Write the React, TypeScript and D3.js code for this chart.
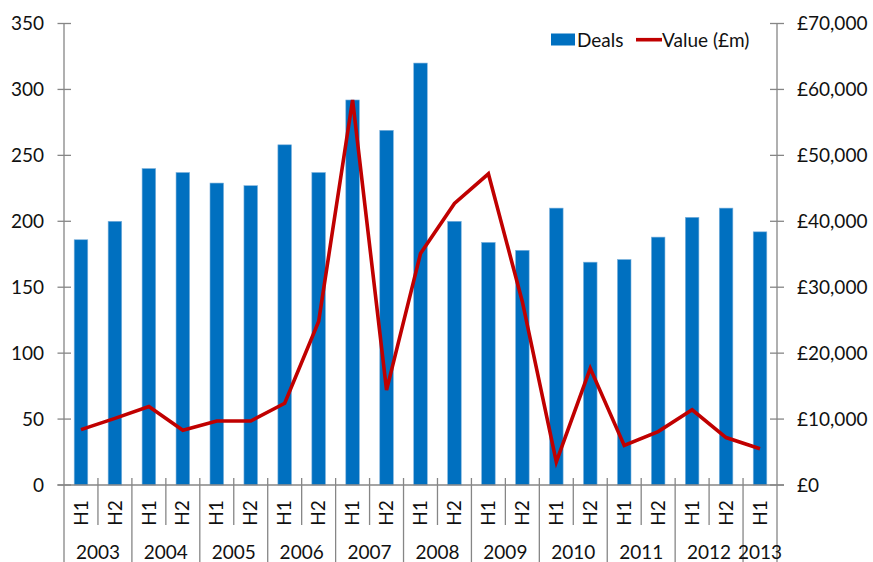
import { useEffect, useRef } from "react";
import * as d3 from "d3";

const years = ["2003", "2004", "2005", "2006", "2007", "2008", "2009", "2010", "2011", "2012", "2013"];
const halves = ["H1", "H2", "H1", "H2", "H1", "H2", "H1", "H2", "H1", "H2", "H1", "H2", "H1", "H2", "H1", "H2", "H1", "H2", "H1", "H2", "H1"];
const deals = [186, 200, 240, 237, 229, 227, 258, 237, 292, 269, 320, 200, 184, 178, 210, 169, 171, 188, 203, 210, 192];
const valueGbp = [8400, 10100, 11900, 8300, 9700, 9700, 12400, 24800, 58400, 14400, 35100, 42700, 47200, 27800, 3500, 17700, 6000, 8100, 11400, 7200, 5500];
const leftTicks = [0, 50, 100, 150, 200, 250, 300, 350];
const rightTicks = [0, 10000, 20000, 30000, 40000, 50000, 60000, 70000];

export default function App() {
  const svgRef = useRef<SVGSVGElement>(null);

  useEffect(() => {
    const svg = d3.select(svgRef.current);
    svg.selectAll("*").remove();

    const width = 873;
    const height = 562;
    const margin = { top: 23.5, right: 96, bottom: 77, left: 64 };
    const axisColor = "#868686";
    const font = "Lato, 'Open Sans', sans-serif";
    const textColor = "#111";

    const keys = deals.map((_, i) => i);
    const x = d3
      .scaleBand<number>()
      .domain(keys)
      .range([margin.left, width - margin.right]);

    const y = d3
      .scaleLinear()
      .domain([0, 350])
      .range([height - margin.bottom, margin.top]);

    const y2 = d3
      .scaleLinear()
      .domain([0, 70000])
      .range([height - margin.bottom, margin.top]);

    const base = y(0);
    const barW = x.bandwidth() * 0.4;

    // bars
    svg
      .append("g")
      .selectAll("rect")
      .data(deals)
      .enter()
      .append("rect")
      .attr("x", (_, i) => x(i)! + (x.bandwidth() - barW) / 2)
      .attr("y", (d) => y(d))
      .attr("width", barW)
      .attr("height", (d) => base - y(d))
      .attr("fill", "#0070C0")
      .attr("stroke", "#7fb3dd")
      .attr("stroke-width", 0.6);

    // left axis
    const left = svg.append("g").attr("font-family", font);
    left
      .append("line")
      .attr("x1", margin.left)
      .attr("x2", margin.left)
      .attr("y1", margin.top)
      .attr("y2", height)
      .attr("stroke", axisColor)
      .attr("stroke-width", 1.3);
    leftTicks.forEach((t) => {
      left
        .append("line")
        .attr("x1", margin.left - 6.5)
        .attr("x2", margin.left + 7)
        .attr("y1", y(t))
        .attr("y2", y(t))
        .attr("stroke", axisColor)
        .attr("stroke-width", 1.3);
      left
        .append("text")
        .attr("x", margin.left - 20)
        .attr("y", y(t))
        .attr("dy", "0.35em")
        .attr("text-anchor", "end")
        .attr("font-size", 19)
        .attr("fill", textColor)
        .text(t);
    });

    // right axis
    const rx = width - margin.right;
    const right = svg.append("g").attr("font-family", font);
    right
      .append("line")
      .attr("x1", rx)
      .attr("x2", rx)
      .attr("y1", margin.top)
      .attr("y2", height)
      .attr("stroke", axisColor)
      .attr("stroke-width", 1.3);
    const fmt = d3.format(",");
    rightTicks.forEach((t) => {
      right
        .append("line")
        .attr("x1", rx - 7)
        .attr("x2", rx + 7)
        .attr("y1", y2(t))
        .attr("y2", y2(t))
        .attr("stroke", axisColor)
        .attr("stroke-width", 1.3);
      right
        .append("text")
        .attr("x", rx + 20)
        .attr("y", y2(t))
        .attr("dy", "0.35em")
        .attr("font-size", 19)
        .attr("fill", textColor)
        .text("£" + fmt(t));
    });

    // category axis (two levels: half-year, year)
    const cat = svg.append("g").attr("font-family", font);
    cat
      .append("line")
      .attr("x1", margin.left - 6.5)
      .attr("x2", rx + 7)
      .attr("y1", base)
      .attr("y2", base)
      .attr("stroke", axisColor)
      .attr("stroke-width", 1.3);

    keys.forEach((i) => {
      const xs = x(i)!;
      if (i > 0) {
        const yearEdge = i % 2 === 0;
        cat
          .append("line")
          .attr("x1", xs)
          .attr("x2", xs)
          .attr("y1", base - 7)
          .attr("y2", yearEdge ? height : base + 40)
          .attr("stroke", axisColor)
          .attr("stroke-width", 1.3);
      }
      const cx = xs + x.bandwidth() / 2;
      cat
        .append("text")
        .attr("transform", `translate(${cx},${base + 28}) rotate(-90)`)
        .attr("text-anchor", "middle")
        .attr("dy", "0.35em")
        .attr("font-size", 19)
        .attr("fill", textColor)
        .text(halves[i]);
    });

    years.forEach((yr, j) => {
      const first = j * 2;
      const last = Math.min(first + 1, deals.length - 1);
      const cx = (x(first)! + x(last)! + x.bandwidth()) / 2;
      cat
        .append("text")
        .attr("x", cx)
        .attr("y", base + 74)
        .attr("text-anchor", "middle")
        .attr("font-size", 19)
        .attr("fill", textColor)
        .text(yr);
    });

    // value line (right axis)
    const line = d3
      .line<number>()
      .x((_, i) => x(i)! + x.bandwidth() / 2)
      .y((d) => y2(d));

    svg
      .append("path")
      .datum(valueGbp)
      .attr("d", line)
      .attr("fill", "none")
      .attr("stroke", "#C00000")
      .attr("stroke-width", 3.6)
      .attr("stroke-linejoin", "miter");

    // legend
    const legend = svg.append("g").attr("font-family", font).attr("font-size", 19).attr("fill", textColor);
    legend.append("rect").attr("x", 551).attr("y", 33.5).attr("width", 24).attr("height", 12).attr("fill", "#0070C0");
    legend.append("text").attr("x", 577).attr("y", 40).attr("dy", "0.35em").text("Deals");
    legend
      .append("line")
      .attr("x1", 636)
      .attr("x2", 662)
      .attr("y1", 39.7)
      .attr("y2", 39.7)
      .attr("stroke", "#C00000")
      .attr("stroke-width", 3.6);
    legend.append("text").attr("x", 662).attr("y", 40).attr("dy", "0.35em").text("Value (£m)");
  }, []);

  return (
    <div style={{ position: "fixed", left: 0, top: 0, background: "#fff" }}>
      <svg ref={svgRef} width={873} height={562} viewBox="0 0 873 562" style={{ display: "block" }} />
    </div>
  );
}
